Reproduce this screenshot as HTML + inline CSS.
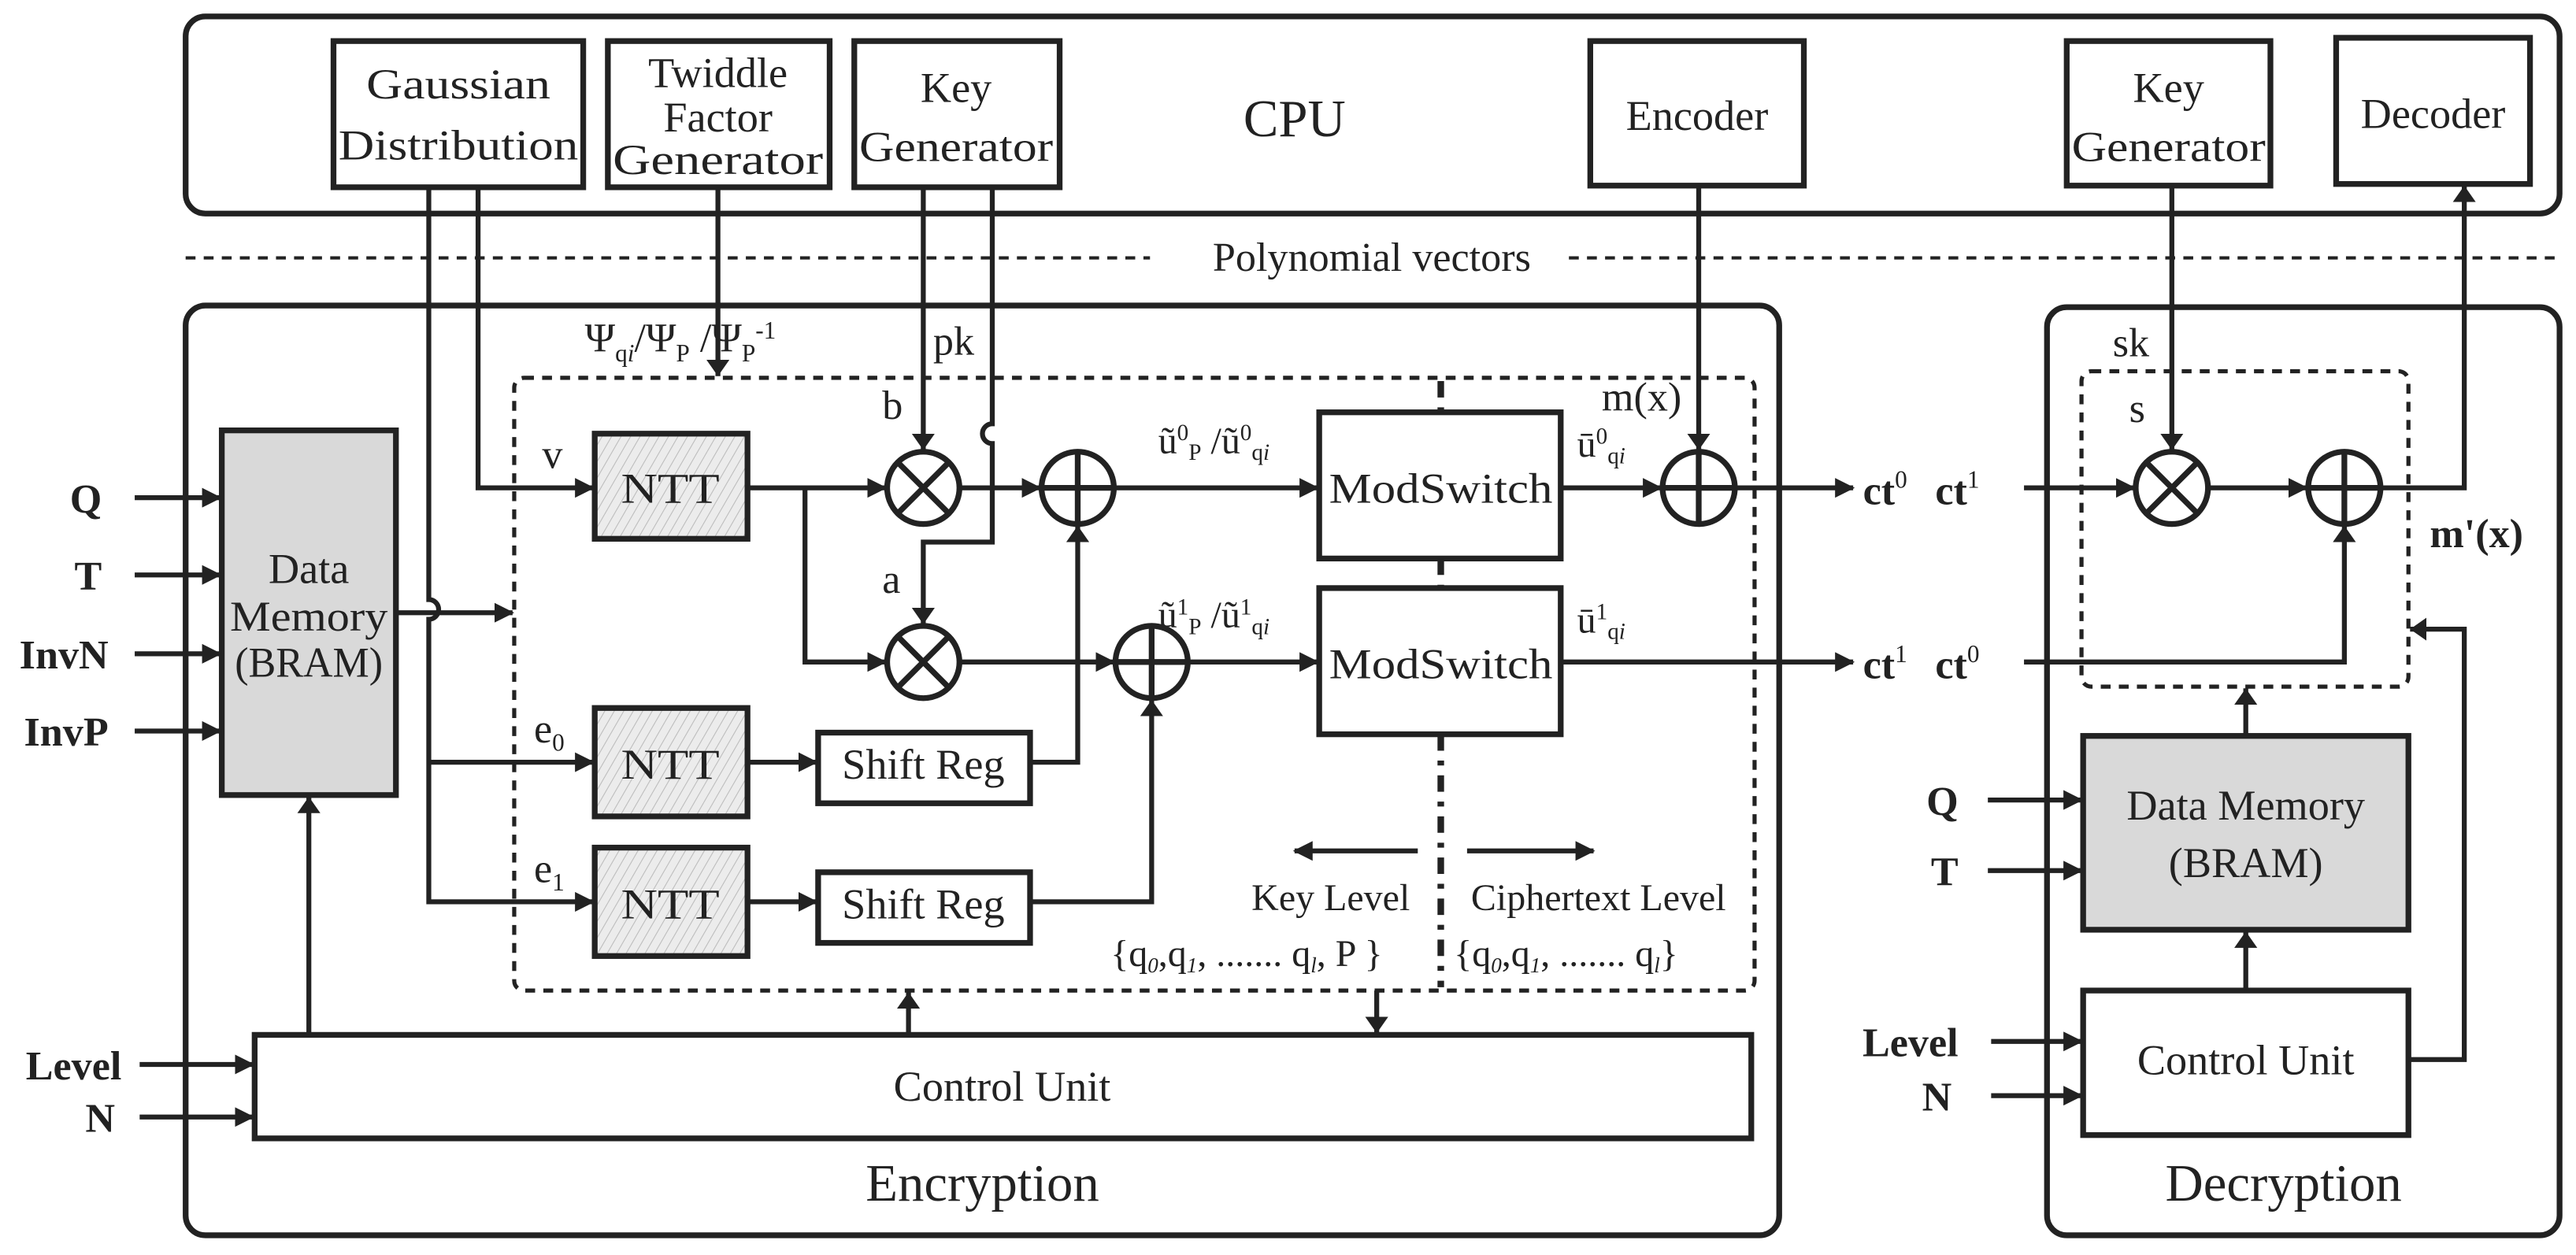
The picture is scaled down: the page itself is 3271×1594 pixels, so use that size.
<!DOCTYPE html>
<html><head><meta charset="utf-8"><style>
html,body{margin:0;padding:0;background:#fff;}
svg{display:block;}
text{font-family:"Liberation Serif",serif;fill:#222;}
</style></head><body>
<svg width="3271" height="1594" viewBox="0 0 1568 764" preserveAspectRatio="none" xmlns="http://www.w3.org/2000/svg">
<defs>
<marker id="ah" markerWidth="12" markerHeight="12" refX="11" refY="6" orient="auto" markerUnits="userSpaceOnUse">
<path d="M0,0 L12,6 L0,12 z" fill="#222"/></marker>
<marker id="ahs" markerWidth="10" markerHeight="14" refX="10" refY="7" orient="auto" markerUnits="userSpaceOnUse">
<path d="M0,0 L10,7 L0,14 z" fill="#222"/></marker>
<pattern id="hatch" width="5" height="5" patternUnits="userSpaceOnUse" patternTransform="rotate(30)">
<rect width="5" height="5" fill="#ececec"/><line x1="0" y1="0" x2="0" y2="5" stroke="#bbb" stroke-width="1"/></pattern>
</defs>
<g fill="none" stroke="#222" stroke-width="3.5">
<rect x="113" y="10" width="1445" height="120" rx="12"/>
<rect x="203" y="25" width="152" height="89"/>
<rect x="370" y="25" width="135" height="89"/>
<rect x="520" y="25" width="125" height="89"/>
<rect x="968" y="25" width="130" height="88"/>
<rect x="1258" y="25" width="124" height="88"/>
<rect x="1422" y="23" width="118" height="89"/>
<rect x="113" y="186" width="970" height="566" rx="12"/>
<rect x="1246" y="187" width="312" height="565" rx="12"/>
</g>
<g stroke="#222" stroke-width="2" stroke-dasharray="6,5" fill="none">
<line x1="113" y1="157" x2="700" y2="157"/>
<line x1="955" y1="157" x2="1558" y2="157"/>
<rect x="313" y="230" width="755" height="373" rx="6" stroke-width="2.5"/>
<rect x="1267" y="226" width="199" height="192" rx="6" stroke-width="2.5"/>
</g>
<g stroke="#222" stroke-width="4" stroke-dasharray="10,6,3,6">
<line x1="877" y1="232" x2="877" y2="251"/>
<line x1="877" y1="340" x2="877" y2="358"/>
<line x1="877" y1="447" x2="877" y2="601"/>
</g>
<g stroke="#222" stroke-width="3.5">
<rect x="135" y="262" width="106" height="222" fill="#d9d9d9"/>
<rect x="362" y="264" width="93" height="64" fill="url(#hatch)"/>
<rect x="362" y="431" width="93" height="66" fill="url(#hatch)"/>
<rect x="362" y="516" width="93" height="66" fill="url(#hatch)"/>
<rect x="498" y="446" width="129" height="43" fill="#fff"/>
<rect x="498" y="531" width="129" height="43" fill="#fff"/>
<rect x="803" y="251" width="147" height="89" fill="#fff"/>
<rect x="803" y="358" width="147" height="89" fill="#fff"/>
<rect x="155" y="630" width="911" height="63" fill="#fff"/>
<rect x="1268" y="448" width="198" height="118" fill="#d9d9d9"/>
<rect x="1268" y="603" width="198" height="88" fill="#fff"/>
</g>
<g fill="none" stroke="#222" stroke-width="3">
<line x1="437" y1="114" x2="437" y2="229" marker-end="url(#ahs)"/>
<path d="M291,114 V297 H361" marker-end="url(#ah)"/>
<path d="M261,114 V365 a6,6 0 0 1 0,12 V549 H361" marker-end="url(#ah)"/>
<line x1="261" y1="464" x2="361" y2="464" marker-end="url(#ah)"/>
<line x1="241" y1="373" x2="312" y2="373" marker-end="url(#ah)"/>
<line x1="562" y1="114" x2="562" y2="274" marker-end="url(#ahs)"/>
<path d="M604,114 V258 a6,6 0 0 0 0,12 V330 H562 V380" marker-end="url(#ahs)"/>
<line x1="455" y1="297" x2="539" y2="297" marker-end="url(#ah)"/>
<path d="M490,297 V403 H539" marker-end="url(#ah)"/>
<line x1="584" y1="297" x2="633" y2="297" marker-end="url(#ah)"/>
<line x1="678" y1="297" x2="802" y2="297" marker-end="url(#ah)"/>
<line x1="584" y1="403" x2="678" y2="403" marker-end="url(#ah)"/>
<line x1="723" y1="403" x2="802" y2="403" marker-end="url(#ah)"/>
<line x1="455" y1="464" x2="497" y2="464" marker-end="url(#ah)"/>
<line x1="455" y1="549" x2="497" y2="549" marker-end="url(#ah)"/>
<path d="M627,464 H656 V320" marker-end="url(#ahs)"/>
<path d="M627,549 H701 V426" marker-end="url(#ahs)"/>
<line x1="950" y1="297" x2="1011" y2="297" marker-end="url(#ah)"/>
<line x1="1034" y1="113" x2="1034" y2="274" marker-end="url(#ahs)"/>
<line x1="1056" y1="297" x2="1128" y2="297" marker-end="url(#ah)"/>
<line x1="950" y1="403" x2="1128" y2="403" marker-end="url(#ah)"/>
<line x1="863" y1="518" x2="788" y2="518" marker-end="url(#ah)"/>
<line x1="893" y1="518" x2="970" y2="518" marker-end="url(#ah)"/>
<line x1="82" y1="303" x2="134" y2="303" marker-end="url(#ah)"/>
<line x1="82" y1="350" x2="134" y2="350" marker-end="url(#ah)"/>
<line x1="82" y1="398" x2="134" y2="398" marker-end="url(#ah)"/>
<line x1="82" y1="445" x2="134" y2="445" marker-end="url(#ah)"/>
<line x1="188" y1="630" x2="188" y2="485" marker-end="url(#ahs)"/>
<line x1="553" y1="630" x2="553" y2="604" marker-end="url(#ahs)"/>
<line x1="838" y1="603" x2="838" y2="629" marker-end="url(#ahs)"/>
<line x1="85" y1="648" x2="154" y2="648" marker-end="url(#ah)"/>
<line x1="85" y1="680" x2="154" y2="680" marker-end="url(#ah)"/>
<line x1="1232" y1="297" x2="1299" y2="297" marker-end="url(#ah)"/>
<line x1="1322" y1="113" x2="1322" y2="274" marker-end="url(#ahs)"/>
<line x1="1344" y1="297" x2="1404" y2="297" marker-end="url(#ah)"/>
<path d="M1449,297 H1500 V113" marker-end="url(#ahs)"/>
<path d="M1232,403 H1427 V320" marker-end="url(#ahs)"/>
<line x1="1367" y1="448" x2="1367" y2="419" marker-end="url(#ahs)"/>
<line x1="1367" y1="603" x2="1367" y2="567" marker-end="url(#ahs)"/>
<path d="M1466,645 H1500 V383 H1467" marker-end="url(#ahs)"/>
<line x1="1210" y1="487" x2="1267" y2="487" marker-end="url(#ah)"/>
<line x1="1210" y1="530" x2="1267" y2="530" marker-end="url(#ah)"/>
<line x1="1212" y1="634" x2="1267" y2="634" marker-end="url(#ah)"/>
<line x1="1212" y1="667" x2="1267" y2="667" marker-end="url(#ah)"/>
</g>
<g fill="#fff" stroke="#222" stroke-width="3.5">
<circle cx="562" cy="297" r="22"/><circle cx="562" cy="403" r="22"/>
<circle cx="656" cy="297" r="22"/><circle cx="701" cy="403" r="22"/>
<circle cx="1034" cy="297" r="22"/>
<circle cx="1322" cy="297" r="22"/><circle cx="1427" cy="297" r="22"/>
</g>
<g stroke="#222" stroke-width="3.5">
<path d="M547,282 L577,312 M577,282 L547,312"/>
<path d="M547,388 L577,418 M577,388 L547,418"/>
<path d="M1307,282 L1337,312 M1337,282 L1307,312"/>
<path d="M634,297 H678 M656,275 V319"/>
<path d="M679,403 H723 M701,381 V425"/>
<path d="M1012,297 H1056 M1034,275 V319"/>
<path d="M1405,297 H1449 M1427,275 V319"/>
</g>
<g font-size="26" text-anchor="middle">
<text x="279" y="60" textLength="112" lengthAdjust="spacingAndGlyphs">Gaussian</text><text x="279" y="97" textLength="146" lengthAdjust="spacingAndGlyphs">Distribution</text>
<text x="437" y="53">Twiddle</text><text x="437" y="80">Factor</text><text x="437" y="106" textLength="128" lengthAdjust="spacingAndGlyphs">Generator</text>
<text x="582" y="62">Key</text><text x="582" y="98" textLength="118" lengthAdjust="spacingAndGlyphs">Generator</text>
<text x="1033" y="79">Encoder</text>
<text x="1320" y="62">Key</text><text x="1320" y="98" textLength="118" lengthAdjust="spacingAndGlyphs">Generator</text>
<text x="1481" y="78">Decoder</text>
<text x="788" y="83" font-size="32">CPU</text>
<text x="835" y="165" font-size="25">Polynomial vectors</text>
<text x="188" y="355">Data</text><text x="188" y="384" textLength="96" lengthAdjust="spacingAndGlyphs">Memory</text><text x="188" y="412" textLength="90" lengthAdjust="spacingAndGlyphs">(BRAM)</text>
<text x="408" y="306" textLength="60" lengthAdjust="spacingAndGlyphs">NTT</text><text x="408" y="474" textLength="60" lengthAdjust="spacingAndGlyphs">NTT</text><text x="408" y="559" textLength="60" lengthAdjust="spacingAndGlyphs">NTT</text>
<text x="562" y="474">Shift Reg</text><text x="562" y="559">Shift Reg</text>
<text x="877" y="306" textLength="136" lengthAdjust="spacingAndGlyphs">ModSwitch</text><text x="877" y="413" textLength="136" lengthAdjust="spacingAndGlyphs">ModSwitch</text>
<text x="610" y="670">Control Unit</text>
<text x="598" y="731" font-size="32">Encryption</text>
<text x="1367" y="499">Data Memory</text><text x="1367" y="534">(BRAM)</text>
<text x="1367" y="654">Control Unit</text>
<text x="1390" y="731" font-size="32">Decryption</text>
<text x="810" y="554" font-size="23">Key Level</text>
<text x="973" y="554" font-size="23">Ciphertext Level</text>
</g>
<g font-size="25">
<text x="356" y="214">Ψ<tspan font-size="15" dy="6">q<tspan font-style="italic">i</tspan></tspan><tspan dy="-6">/Ψ</tspan><tspan font-size="15" dy="6">P</tspan><tspan dy="-6"> /Ψ</tspan><tspan font-size="15" dy="6">P</tspan><tspan font-size="15" dy="-14">-1</tspan></text>
<text x="568" y="216">pk</text>
<text x="537" y="255">b</text><text x="537" y="361">a</text>
<text x="330" y="285">v</text>
<text x="325" y="452">e<tspan font-size="15" dy="5">0</tspan></text>
<text x="325" y="537">e<tspan font-size="15" dy="5">1</tspan></text>
<text x="705" y="276" font-size="23">ũ<tspan font-size="14" dy="-8">0</tspan><tspan font-size="14" dy="12">P</tspan><tspan dy="-4"> /ũ</tspan><tspan font-size="14" dy="-8">0</tspan><tspan font-size="14" dy="12">q<tspan font-style="italic">i</tspan></tspan></text>
<text x="705" y="382" font-size="23">ũ<tspan font-size="14" dy="-8">1</tspan><tspan font-size="14" dy="12">P</tspan><tspan dy="-4"> /ũ</tspan><tspan font-size="14" dy="-8">1</tspan><tspan font-size="14" dy="12">q<tspan font-style="italic">i</tspan></tspan></text>
<text x="960" y="278" font-size="23">ū<tspan font-size="14" dy="-8">0</tspan><tspan font-size="14" dy="12">q<tspan font-style="italic">i</tspan></tspan></text>
<text x="960" y="385" font-size="23">ū<tspan font-size="14" dy="-8">1</tspan><tspan font-size="14" dy="12">q<tspan font-style="italic">i</tspan></tspan></text>
<text x="975" y="250">m(x)</text>
<text x="1134" y="307" font-weight="bold">ct<tspan font-size="15" dy="-10" font-weight="normal">0</tspan></text>
<text x="1134" y="413" font-weight="bold">ct<tspan font-size="15" dy="-10" font-weight="normal">1</tspan></text>
<text x="1178" y="307" font-weight="bold">ct<tspan font-size="15" dy="-10" font-weight="normal">1</tspan></text>
<text x="1178" y="413" font-weight="bold">ct<tspan font-size="15" dy="-10" font-weight="normal">0</tspan></text>
<text x="1286" y="217">sk</text>
<text x="1296" y="257">s</text>
<text x="1479" y="333" font-weight="bold">m'(x)</text>
<text x="676" y="588" font-size="23">{q<tspan font-size="13" dy="4" font-style="italic">0</tspan><tspan dy="-4">,q</tspan><tspan font-size="13" dy="4" font-style="italic">1</tspan><tspan dy="-4">, ....... q</tspan><tspan font-size="13" dy="4" font-style="italic">l</tspan><tspan dy="-4">, P }</tspan></text>
<text x="885" y="588" font-size="23">{q<tspan font-size="13" dy="4" font-style="italic">0</tspan><tspan dy="-4">,q</tspan><tspan font-size="13" dy="4" font-style="italic">1</tspan><tspan dy="-4">, ....... q</tspan><tspan font-size="13" dy="4" font-style="italic">l</tspan><tspan dy="-4">}</tspan></text>
</g>
<g font-size="25" font-weight="bold" text-anchor="end">
<text x="62" y="312">Q</text><text x="62" y="359">T</text>
<text x="66" y="407">InvN</text><text x="66" y="454">InvP</text>
<text x="74" y="657">Level</text><text x="70" y="689">N</text>
<text x="1192" y="496">Q</text><text x="1192" y="539">T</text>
<text x="1192" y="643">Level</text><text x="1188" y="676">N</text>
</g>
</svg>
</body></html>
